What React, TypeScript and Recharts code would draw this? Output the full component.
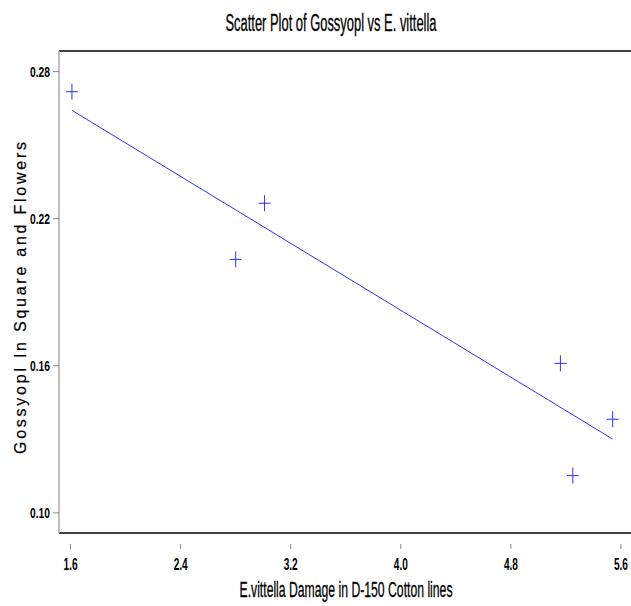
import React from "react"
import {
  ScatterChart, Scatter, XAxis, YAxis, ReferenceLine,
} from "recharts"

// E.vittella damage vs gossypol
const damage = [1.61, 2.8, 3.01, 5.16, 5.25, 5.54]
const gossypol = [0.2718, 0.2034, 0.2263, 0.161, 0.1152, 0.1382]

// fitted line endpoints
const fitX = [1.61, 5.54]
const fitY = [0.2642, 0.1301]

const xTicks = [1.6, 2.4, 3.2, 4.0, 4.8, 5.6]
const yTicks = [0.10, 0.16, 0.22, 0.28]

const X_DOMAIN: [number, number] = [1.516, 5.673]
const Y_DOMAIN: [number, number] = [0.0918, 0.2884]

const points = damage.map((x, i) => ({ x, y: gossypol[i] }))
const fitLine = fitX.map((x, i) => ({ x, y: fitY[i] }))

const FONT = "'Liberation Sans', Arial, sans-serif"
const BLUE = "#3030ff"

const Plus = (props: any) => {
  const { cx, cy } = props
  if (cx == null || cy == null) return null
  return (
    <g stroke={BLUE} strokeWidth={1}>
      <line x1={cx - 6} y1={cy} x2={cx + 6} y2={cy} />
      <line x1={cx} y1={cy - 8} x2={cx} y2={cy + 8} />
    </g>
  )
}

// narrow look: squeeze the glyphs horizontally like the condensed font in the picture
const XTick = ({ x, y, payload }: any) => (
  <g>
    <line x1={x} y1={y + 3} x2={x} y2={y + 8} stroke="#888" />
    <text transform={`translate(${x},${y + 29}) scale(0.63,1)`} textAnchor="middle"
      fontFamily={FONT} fontWeight="bold" fontSize={16} fill="#000">
      {payload.value.toFixed(1)}
    </text>
  </g>
)

const YTick = ({ x, y, payload }: any) => (
  <text transform={`translate(${x - 1},${y + 5.5}) scale(0.685,1)`} textAnchor="end"
    fontFamily={FONT} fontWeight="bold" fontSize={15} fill="#000">
    {payload.value.toFixed(2)}
  </text>
)

export default function App() {
  return (
    <div style={{ position: "absolute", left: 0, top: 0, width: 631, height: 606, background: "#fff" }}>
      <ScatterChart width={631} height={606} margin={{ top: 51, right: 0, bottom: 0, left: 0 }}>
        <text x={331} y={31} textAnchor="middle" fontFamily={FONT} fontSize={23} fill="#000"
          stroke="#000" strokeWidth={0.3} textLength={211} lengthAdjust="spacingAndGlyphs">
          Scatter Plot of Gossyopl vs E. vittella
        </text>
        <text x={346} y={597} textAnchor="middle" fontFamily={FONT} fontSize={22} fill="#000"
          stroke="#000" strokeWidth={0.3} textLength={213} lengthAdjust="spacingAndGlyphs">
          E.vittella Damage in D-150 Cotton lines
        </text>
        <text x={26} y={298} transform="rotate(-90, 26, 298)" textAnchor="middle" fontFamily={FONT} fontSize={16} fill="#000"
          stroke="#000" strokeWidth={0.2} textLength={312} lengthAdjust="spacing">
          Gossyopl In Square and Flowers
        </text>
        <XAxis
          type="number" dataKey="x" domain={X_DOMAIN} ticks={xTicks} height={73}
          axisLine={{ stroke: "#000", strokeWidth: 1.5 }} tickLine={false} tick={<XTick />}
        />
        <YAxis
          type="number" dataKey="y" domain={Y_DOMAIN} ticks={yTicks} width={59}
          axisLine={{ stroke: "#aaa", strokeWidth: 1.5 }} tickLine={{ stroke: "#888" }} tickSize={6} tick={<YTick />}
        />
        <ReferenceLine y={Y_DOMAIN[1]} stroke="#000" strokeWidth={1.5} />
        <Scatter data={fitLine} line={{ stroke: BLUE, strokeWidth: 1 }} shape={() => null} isAnimationActive={false} />
        <Scatter data={points} shape={<Plus />} isAnimationActive={false} />
      </ScatterChart>
    </div>
  )
}
